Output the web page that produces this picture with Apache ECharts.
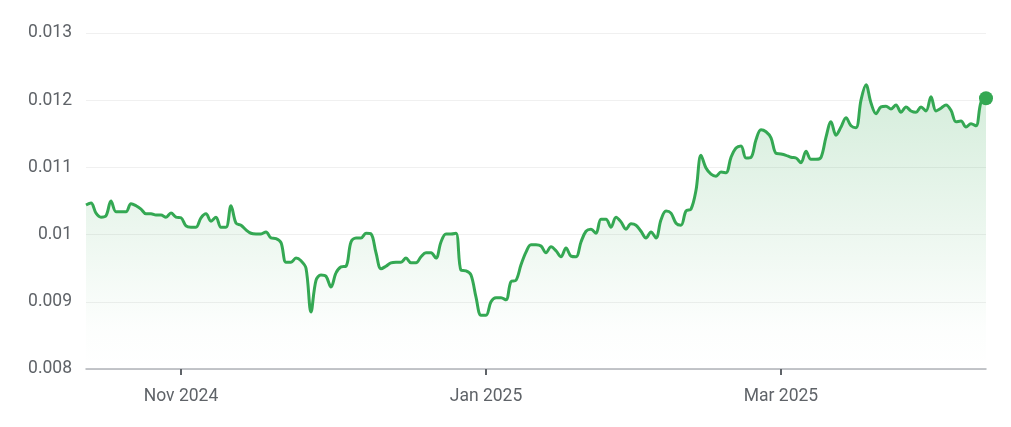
<!DOCTYPE html>
<html>
<head>
    <meta http-equiv="Content-Type" content="text/html; charset=UTF-8">
    <title>Rate chart</title>
    <script type="text/javascript" src="https://cdn.jsdelivr.net/npm/echarts@6.0.0/dist/echarts.min.js"></script>
    <style>
        html, body { margin: 0; padding: 0; background: #fff; }
        #view { width: 1011px; height: 427px; }
    </style>
</head>
<body>
<div id="view"></div>
</body>
<script type="text/javascript">

    // first day of the series, one value per day after it
    var startDate = '2024-10-13';
    var rates = [
        0.01044, 0.01047, 0.01032, 0.01026, 0.01028, 0.01050, 0.01034, 0.01034, 0.01034, 0.01046,
        0.01043, 0.01038, 0.01031, 0.01031, 0.01029, 0.01029, 0.01026, 0.01032, 0.01026, 0.01025,
        0.01013, 0.01011, 0.01011, 0.01025, 0.01031, 0.01020, 0.01026, 0.01011, 0.01011, 0.01043,
        0.01017, 0.01014, 0.01007, 0.01002, 0.01001, 0.01001, 0.01004, 0.00995, 0.00994, 0.00988,
        0.00959, 0.00959, 0.00965, 0.00961, 0.00950, 0.00885, 0.00932, 0.00940, 0.00938, 0.00922,
        0.00943, 0.00952, 0.00953, 0.00989, 0.00995, 0.00995, 0.01002, 0.01001, 0.00973, 0.00949,
        0.00953, 0.00958, 0.00959, 0.00959, 0.00965, 0.00958, 0.00958, 0.00967, 0.00973, 0.00973,
        0.00965, 0.00989, 0.01001, 0.01001, 0.01002, 0.00947, 0.00946, 0.00940, 0.00907, 0.00880,
        0.00880, 0.00900, 0.00906, 0.00906, 0.00903, 0.00930, 0.00932, 0.00955, 0.00974, 0.00985,
        0.00985, 0.00983, 0.00973, 0.00982, 0.00976, 0.00967, 0.00980, 0.00968, 0.00967, 0.00989,
        0.01005, 0.01008, 0.01002, 0.01023, 0.01023, 0.01011, 0.01026, 0.01019, 0.01008, 0.01016,
        0.01014, 0.01005, 0.00995, 0.01004, 0.00995, 0.01022, 0.01035, 0.01032, 0.01017, 0.01014,
        0.01035, 0.01038, 0.01066, 0.01118, 0.01099, 0.01090, 0.01087, 0.01093, 0.01092, 0.01115,
        0.01129, 0.01132, 0.01114, 0.01115, 0.01141, 0.01156, 0.01153, 0.01144, 0.01121, 0.01120,
        0.01118, 0.01115, 0.01114, 0.01107, 0.01124, 0.01112, 0.01112, 0.01115, 0.01145, 0.01168,
        0.01148, 0.01160, 0.01174, 0.01162, 0.01159, 0.01200, 0.01223, 0.01196, 0.01180, 0.01190,
        0.01191, 0.01187, 0.01193, 0.01182, 0.01190, 0.01184, 0.01182, 0.01190, 0.01184, 0.01205,
        0.01184, 0.01188, 0.01193, 0.01185, 0.01168, 0.01169, 0.01160, 0.01165, 0.01162, 0.01197,
        0.01203
    ];

    // x axis labels
    var tickDates = ['2024-11-01', '2025-01-01', '2025-03-01'];
    var tickLabels = ['Nov 2024', 'Jan 2025', 'Mar 2025'];

    // y axis
    var yMin = 0.008;
    var yMax = 0.013;
    var yStep = 0.001;

    function toTime(str) {
        var p = str.split('-');
        return new Date(+p[0], +p[1] - 1, +p[2]).getTime();
    }

    var t0 = toTime(startDate);
    var points = [];
    for (var i = 0; i < rates.length; i++) {
        // build dates through Date so DST shifts do not move points
        var d = new Date(t0);
        d.setDate(d.getDate() + i);
        points.push([d.getTime(), rates[i]]);
    }
    var lastPoint = points[points.length - 1];
    var tickTimes = tickDates.map(toTime);

    var myChart = echarts.init(document.getElementById('view'), null, {renderer: 'canvas'});

    var option = {
        animation: false,
        backgroundColor: '#ffffff',
        grid: {
            left: 86,
            right: 25,
            top: 33,
            bottom: 58
        },
        xAxis: {
            // plain value axis holding timestamps, ticks only at the month starts
            type: 'value',
            min: points[0][0],
            max: lastPoint[0],
            axisLine: {
                show: true,
                onZero: false,
                lineStyle: {color: '#b0b3b8', width: 1.5}
            },
            axisTick: {
                show: true,
                customValues: tickTimes,
                length: 6,
                lineStyle: {color: '#5f6368', width: 2}
            },
            axisLabel: {
                customValues: tickTimes,
                margin: 19,
                color: '#5f6368',
                fontSize: 17.5,
                fontFamily: 'Roboto',
                formatter: function (value) {
                    var idx = tickTimes.indexOf(value);
                    return idx >= 0 ? tickLabels[idx] : '';
                }
            },
            splitLine: {show: false}
        },
        yAxis: {
            type: 'value',
            min: yMin,
            max: yMax,
            interval: yStep,
            axisLine: {show: false},
            axisTick: {show: false},
            axisLabel: {
                margin: 14,
                color: '#5f6368',
                fontSize: 17.5,
                fontFamily: 'Roboto',
                formatter: function (v) {
                    return String(+v.toFixed(3));
                }
            },
            splitLine: {
                lineStyle: {color: '#f0f0f0', width: 1}
            }
        },
        series: [
            {
                type: 'line',
                data: points,
                smooth: 0.35,
                showSymbol: false,
                lineStyle: {color: '#34a853', width: 3},
                areaStyle: {
                    color: new echarts.graphic.LinearGradient(0, 0, 0, 1, [
                        {offset: 0, color: 'rgba(52,168,83,0.30)'},
                        {offset: 0.85, color: 'rgba(52,168,83,0.02)'},
                        {offset: 1, color: 'rgba(52,168,83,0)'}
                    ])
                },
                z: 2
            },
            {
                // the dot on the latest value
                type: 'scatter',
                data: [lastPoint],
                symbol: 'circle',
                symbolSize: 14,
                itemStyle: {color: '#34a853', opacity: 1},
                z: 3
            }
        ]
    };

    myChart.setOption(option);
</script>
</html>
